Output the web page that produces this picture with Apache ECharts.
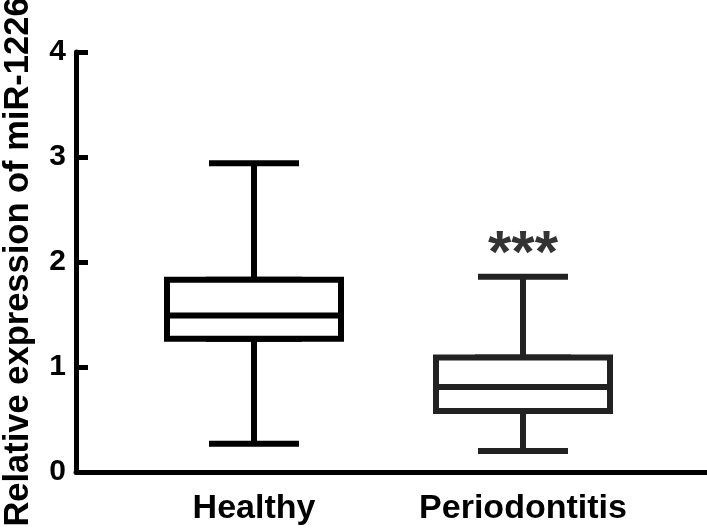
<!DOCTYPE html>
<html>
<head>
<meta charset="utf-8">
<script src="https://cdn.jsdelivr.net/npm/echarts@6/dist/echarts.min.js"></script>
<style>html,body{margin:0;padding:0;background:#fff;}#c{width:707px;height:530px;}</style>
</head>
<body>
<div id="c"></div>
<script>
var categories = ['Healthy', 'Periodontitis'];
// [min, Q1, median, Q3, max]
var healthyStats = [0.27, 1.27, 1.49, 1.83, 2.94];
var periodontitisStats = [0.20, 0.58, 0.81, 1.09, 1.86];
var yTicks = [0, 1, 2, 3, 4];
var sigLabel = '***';
var sigValue = 2.06;

var colors = ['#000000', '#222222'];
var allStats = [healthyStats, periodontitisStats];

// box (white-filled, covers the narrow inner box), whiskers drawn by a narrower boxplot beneath
var boxData = allStats.map(function (s, i) {
  return { value: [s[1], s[1], s[2], s[3], s[3]], itemStyle: { borderColor: colors[i] } };
});
var whiskerData = allStats.map(function (s, i) {
  return { value: [s[0], s[1], s[2], s[3], s[4]], itemStyle: { borderColor: colors[i] } };
});

var font = 'Liberation Sans, Arial, Helvetica, sans-serif';
var chart = echarts.init(document.getElementById('c'), null, { renderer: 'canvas' });
chart.setOption({
  animation: false,
  backgroundColor: '#fff',
  grid: [
    { left: 119.5, right: 49.5, top: 52, bottom: 58, containLabel: false, outerBoundsMode: 'none' },
    { left: 76, right: 0, top: 52, bottom: 58, containLabel: false, outerBoundsMode: 'none' }
  ],
  xAxis: [
    { type: 'category', gridIndex: 0, data: categories,
      axisLine: { show: false }, axisTick: { show: false },
      axisLabel: { color: '#000', fontFamily: font, fontWeight: 'bold', fontSize: 34, margin: 20, interval: 0 } },
    { type: 'category', gridIndex: 0, data: categories, show: false },
    { type: 'value', gridIndex: 1, min: 0, max: 1,
      axisLine: { show: true, lineStyle: { color: '#000', width: 5 } },
      axisTick: { show: false }, axisLabel: { show: false }, splitLine: { show: false } }
  ],
  yAxis: [
    { type: 'value', gridIndex: 0, min: 0, max: 4, interval: 1, show: false },
    { type: 'value', gridIndex: 1, min: 0, max: 4, interval: 1,
      name: 'Relative expression of miR-1226', nameLocation: 'middle', nameGap: 40,
      nameTextStyle: { color: '#000', fontFamily: font, fontWeight: 'bold', fontSize: 34.5 },
      axisLine: { show: true, lineStyle: { color: '#000', width: 5 } },
      axisTick: { show: true, inside: true, length: 12, lineStyle: { color: '#000', width: 5 } },
      axisLabel: { color: '#000', fontFamily: font, fontWeight: 'bold', fontSize: 30, margin: 10,
                   formatter: function (v) { return yTicks.indexOf(v) >= 0 ? String(v) : ''; } },
      splitLine: { show: false } }
  ],
  series: [
    { type: 'boxplot', xAxisIndex: 1, yAxisIndex: 0, boxWidth: [90, 90], z: 2,
      itemStyle: { color: '#fff', borderWidth: 6 }, data: whiskerData },
    { type: 'boxplot', xAxisIndex: 0, yAxisIndex: 0, boxWidth: [174, 174], z: 3,
      itemStyle: { color: '#fff', borderWidth: 6 }, data: boxData },
    { type: 'scatter', xAxisIndex: 0, yAxisIndex: 0, symbolSize: 0, z: 4,
      data: [[categories[1], sigValue]],
      label: { show: true, position: 'inside', formatter: sigLabel, color: '#000',
               fontFamily: font, fontWeight: 'bold', fontSize: 60 } }
  ]
});
</script>
</body>
</html>
